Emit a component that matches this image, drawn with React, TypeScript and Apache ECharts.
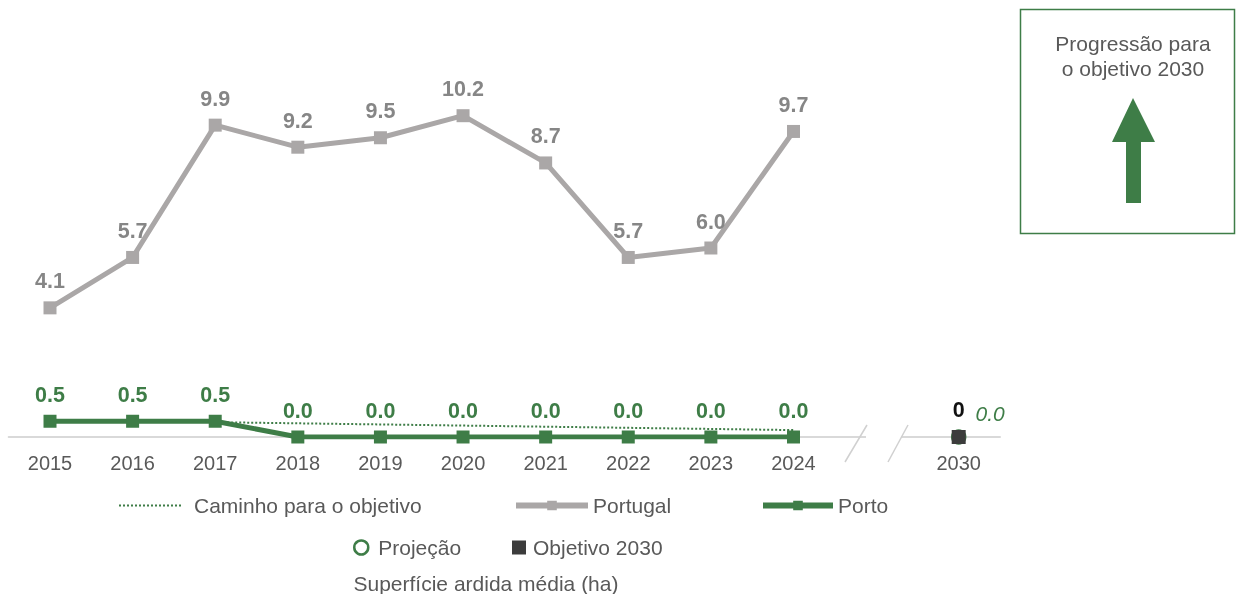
import React, { useEffect, useRef } from 'react';
import * as echarts from 'echarts';

const years = ['2015', '2016', '2017', '2018', '2019', '2020', '2021', '2022', '2023', '2024', '', '2030'];
const portugal = [4.1, 5.7, 9.9, 9.2, 9.5, 10.2, 8.7, 5.7, 6.0, 9.7, null, null];
const porto = [0.5, 0.5, 0.5, 0.0, 0.0, 0.0, 0.0, 0.0, 0.0, 0.0, null, null];
const caminho = [['2017', 0.47], ['2024', 0.22]];
const projecao = [['2030', 0]];
const objetivo = [['2030', 0]];

const GREEN = '#3e7d47';
const GRAY_LINE = '#aaa7a7';
const GRAY_LABEL = '#868686';
const TEXT = '#595959';
const FONT = 'Liberation Sans, Arial, sans-serif';

export default function App() {
  const ref = useRef<HTMLDivElement>(null);
  useEffect(() => {
    const chart = echarts.init(ref.current!, null, { renderer: 'svg' });
    const legendText = { color: TEXT, fontSize: 21, fontFamily: FONT };
    chart.setOption({
      animation: false,
      textStyle: { fontFamily: FONT },
      grid: { left: 8.7, right: 236, top: 59, bottom: 157 },
      xAxis: {
        type: 'category',
        data: years,
        boundaryGap: true,
        axisTick: { show: false },
        axisLine: { show: true, lineStyle: { color: '#d9d9d9', width: 2 } },
        axisLabel: { color: TEXT, fontSize: 20, margin: 16, fontFamily: FONT },
      },
      yAxis: {
        type: 'value',
        min: 0,
        max: 12,
        show: false,
        splitLine: { show: false },
      },
      legend: [
        {
          data: ['Caminho para o objetivo'], left: 118, top: 495, padding: 0,
          itemWidth: 62, itemHeight: 14, itemStyle: { opacity: 0 },
          lineStyle: { width: 2, type: 'dotted', color: GREEN },
          textStyle: { ...legendText, padding: [0, 0, 0, 8] },
        },
        {
          data: ['Portugal'], left: 513, top: 495, padding: 0,
          itemWidth: 72, itemHeight: 12, lineStyle: { width: 6 },
          textStyle: legendText,
        },
        {
          data: ['Porto'], left: 760, top: 495, padding: 0,
          itemWidth: 70, itemHeight: 12, lineStyle: { width: 6 },
          textStyle: legendText,
        },
        {
          data: ['Projeção'], left: 353, top: 537, padding: 0,
          itemWidth: 14, itemHeight: 14,
          itemStyle: { color: '#ffffff', borderColor: GREEN, borderWidth: 2.5, opacity: 1 },
          textStyle: { ...legendText, padding: [0, 0, 0, 5] },
        },
        {
          data: ['Objetivo 2030'], left: 512, top: 537, padding: 0,
          itemWidth: 14, itemHeight: 14, itemStyle: { opacity: 1 },
          textStyle: { ...legendText, padding: [0, 0, 0, 2] },
        },
      ],
      series: [
        {
          name: 'Caminho para o objetivo',
          type: 'line',
          data: caminho,
          symbol: 'none',
          lineStyle: { color: GREEN, width: 2, type: 'dotted' },
          itemStyle: { color: GREEN },
          z: 1,
        },
        {
          name: 'Portugal',
          type: 'line',
          data: portugal,
          symbol: 'rect',
          symbolSize: 13,
          lineStyle: { color: GRAY_LINE, width: 5 },
          itemStyle: { color: GRAY_LINE },
          label: {
            show: true, position: 'top', distance: 9,
            color: GRAY_LABEL, fontSize: 21.5, fontWeight: 'bold', fontFamily: FONT,
            formatter: (p: any) => Number(p.value).toFixed(1),
          },
          z: 2,
        },
        {
          name: 'Porto',
          type: 'line',
          data: porto,
          symbol: 'rect',
          symbolSize: 13,
          lineStyle: { color: GREEN, width: 5 },
          itemStyle: { color: GREEN },
          label: {
            show: true, position: 'top', distance: 9,
            color: GREEN, fontSize: 21.5, fontWeight: 'bold', fontFamily: FONT,
            formatter: (p: any) => Number(p.value).toFixed(1),
          },
          z: 3,
        },
        {
          name: 'Projeção',
          type: 'scatter',
          data: projecao,
          symbol: 'circle',
          symbolSize: 13,
          itemStyle: { color: '#ffffff', borderColor: GREEN, borderWidth: 2.5, opacity: 1 },
          label: {
            show: true, position: 'right', distance: 9, offset: [0, -24],
            color: GREEN, fontSize: 21, fontStyle: 'italic', fontFamily: FONT,
            formatter: (p: any) => Number(p.value[1]).toFixed(1),
          },
          z: 4,
        },
        {
          name: 'Objetivo 2030',
          type: 'scatter',
          data: objetivo,
          symbol: 'rect',
          symbolSize: 14,
          itemStyle: { color: '#3c3c3c', opacity: 1 },
          label: {
            show: true, position: 'top', distance: 9,
            color: '#111111', fontSize: 21.5, fontWeight: 'bold', fontFamily: FONT,
            formatter: (p: any) => String(p.value[1]),
          },
          z: 5,
        },
      ],
      graphic: [
        {
          type: 'rect', z: 100,
          shape: { x: 866, y: 430, width: 35, height: 14 },
          style: { fill: '#ffffff' },
        },
        {
          type: 'line', z: 101,
          shape: { x1: 867, y1: 425, x2: 845, y2: 462 },
          style: { stroke: '#d0d0d0', lineWidth: 1.5 },
        },
        {
          type: 'line', z: 101,
          shape: { x1: 908, y1: 425, x2: 888, y2: 462 },
          style: { stroke: '#d0d0d0', lineWidth: 1.5 },
        },
        {
          type: 'text', z: 100,
          style: {
            x: 486, y: 583, text: 'Superfície ardida média (ha)',
            fill: TEXT, fontSize: 21, fontFamily: FONT,
            textAlign: 'center', textVerticalAlign: 'middle',
          },
        },
        {
          type: 'rect', z: 100,
          shape: { x: 1020.5, y: 9.5, width: 214, height: 224 },
          style: { fill: '#ffffff', stroke: GREEN, lineWidth: 1.5 },
        },
        {
          type: 'text', z: 101,
          style: {
            x: 1133, y: 56, text: 'Progressão para\no objetivo 2030',
            fill: TEXT, fontSize: 21, fontFamily: FONT, lineHeight: 25,
            textAlign: 'center', textVerticalAlign: 'middle',
          },
        },
        {
          type: 'polygon', z: 101,
          shape: {
            points: [
              [1133, 98], [1155, 142], [1141, 142], [1141, 203],
              [1126, 203], [1126, 142], [1112, 142],
            ],
          },
          style: { fill: GREEN },
        },
      ],
    });
    return () => chart.dispose();
  }, []);
  return (
    <div
      ref={ref}
      style={{ position: 'fixed', left: 0, top: 0, width: 1236, height: 594 }}
    />
  );
}
